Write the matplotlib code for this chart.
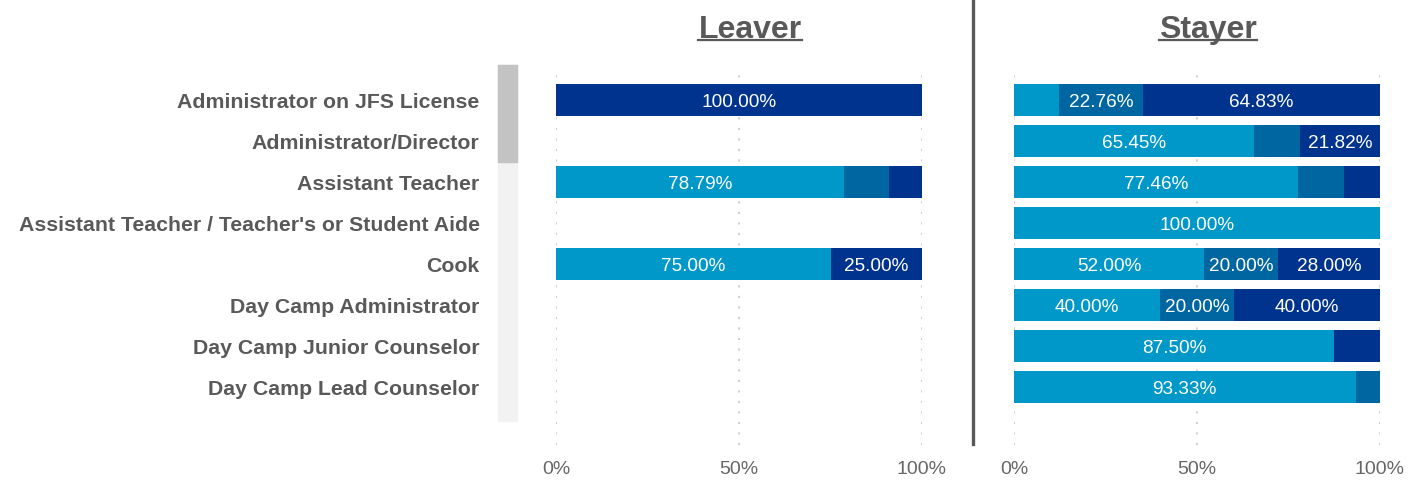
import matplotlib
matplotlib.use("Agg")
import matplotlib.pyplot as plt
from matplotlib.patches import Rectangle
from matplotlib.lines import Line2D

plt.rcParams["font.family"] = ["Liberation Sans", "DejaVu Sans"]

roles = ["Administrator on JFS License", "Administrator/Director", "Assistant Teacher",
         "Assistant Teacher / Teacher's or Student Aide", "Cook", "Day Camp Administrator",
         "Day Camp Junior Counselor", "Day Camp Lead Counselor"]

# three stacked segments per row (light, mid, dark), in percent
leaver_light = [0, 0, 78.79, 0, 75.00, 0, 0, 0]
leaver_mid = [0, 0, 12.12, 0, 0, 0, 0, 0]
leaver_dark = [100.00, 0, 9.09, 0, 25.00, 0, 0, 0]
stayer_light = [12.41, 65.45, 77.46, 100.00, 52.00, 40.00, 87.50, 93.33]
stayer_mid = [22.76, 12.73, 12.68, 0, 20.00, 20.00, 0, 6.67]
stayer_dark = [64.83, 21.82, 9.86, 0, 28.00, 40.00, 12.50, 0]

COLORS = ["#0097C9", "#0066A1", "#00338D"]
GREY = "#595959"
W, H = 1422, 485

fig = plt.figure(figsize=(W / 100, H / 100), dpi=100)


def fx(px):
    return px / W


def fy(py):
    return 1 - py / H


def panel(left_px, segs, show_labels):
    ax = fig.add_axes([fx(left_px), fy(446), 366 / W, (446 - 71) / H])
    rows = list(range(len(roles)))
    left = [0] * len(roles)
    for vals, col in zip(segs, COLORS):
        ax.barh(rows, vals, left=left, height=0.78, color=col, zorder=2)
        for r, v, l in zip(rows, vals, left):
            if v >= 15:
                ax.text(l + v / 2, r, f"{v:.2f}%", ha="center", va="center_baseline",
                        color="white", fontsize=13.7, zorder=3)
        left = [a + b for a, b in zip(left, vals)]
    ax.set_xlim(0, 100)
    ax.set_ylim(7 + 58 / 41, -30 / 41)
    ax.set_xticks([0, 50, 100])
    ax.set_xticklabels(["0%", "50%", "100%"])
    ax.grid(axis="x", color="#c8c8c8", linestyle=(0, (1.3, 5)), linewidth=1.2, zorder=0)
    ax.tick_params(axis="x", length=0, pad=11, labelsize=14, labelcolor="#666666")
    ax.set_yticks(rows)
    if show_labels:
        ax.set_yticklabels(roles, fontsize=15.3, fontweight="bold", color=GREY,
                           va="center_baseline")
        ax.tick_params(axis="y", length=0, pad=55)
    else:
        ax.set_yticklabels([])
        ax.tick_params(axis="y", length=0)
    for s in ax.spines.values():
        s.set_visible(False)
    return ax


panel(556, [leaver_light, leaver_mid, leaver_dark], True)
panel(1014, [stayer_light, stayer_mid, stayer_dark], False)

# scrollbar look-alike next to the labels
fig.patches.append(Rectangle((fx(498), fy(422)), 19 / W, (422 - 66) / H,
                             transform=fig.transFigure, color="#F2F2F2"))
fig.patches.append(Rectangle((fx(498), fy(163)), 19 / W, (163 - 66) / H,
                             transform=fig.transFigure, color="#C3C3C3"))

# divider between panels
fig.add_artist(Line2D([fx(973)] * 2, [1, fy(445)], transform=fig.transFigure,
                      color=GREY, linewidth=2.4))

# underlined titles
titles = []
for name, cx in [("Leaver", 750), ("Stayer", 1208)]:
    t = fig.text(fx(cx), fy(38), name, ha="center", va="baseline",
                 fontsize=23, fontweight="bold", color=GREY)
    titles.append(t)
fig.canvas.draw()
r = fig.canvas.get_renderer()
for t in titles:
    bb = t.get_window_extent(r).transformed(fig.transFigure.inverted())
    fig.add_artist(Line2D([bb.x0, bb.x1], [fy(41)] * 2, transform=fig.transFigure,
                          color=GREY, linewidth=1.6))

fig.savefig("out.png", dpi=100, facecolor="white")
